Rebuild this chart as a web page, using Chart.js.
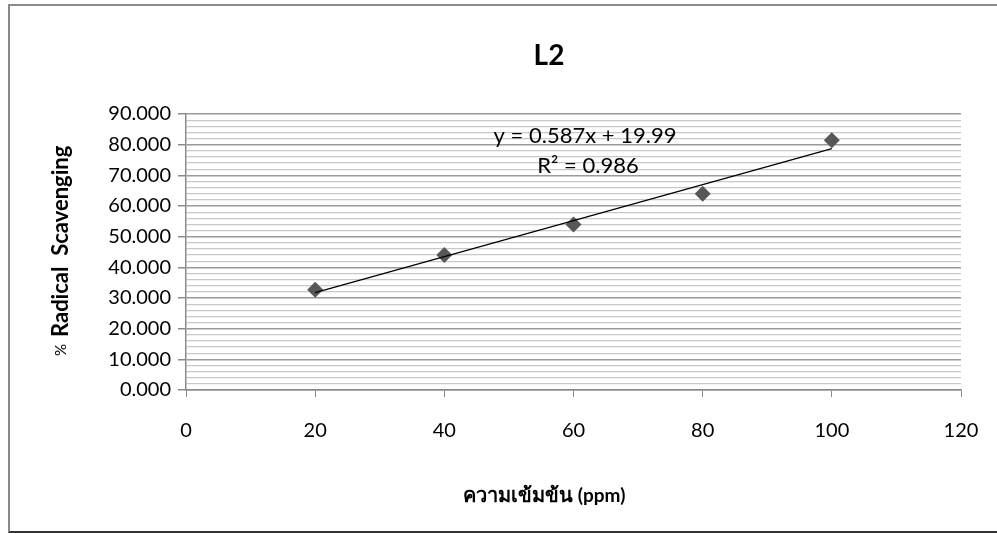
<!DOCTYPE html>
<html>
<head>
<meta charset="utf-8">
<script src="https://cdn.jsdelivr.net/npm/chart.js@4"></script>
<style>
  body { margin: 0; background: #fff; }
  #marco {
    position: absolute; left: 8px; top: 4px; width: 1000px; height: 525px;
    border-left: 2px solid #8a8a8a; border-top: 2px solid #8a8a8a; border-bottom: 2px solid #333;
    pointer-events: none;
  }
  canvas { position: absolute; left: 0; top: 0; }
</style>
</head>
<body>
<canvas id="grafica" width="997" height="533"></canvas>
<div id="marco"></div>
<script>
/* Datos del grafico */
let concentracion = [20, 40, 60, 80, 100]; // ppm
let porcentaje = [32.7, 44.0, 54.0, 64.0, 81.4]; // % Radical Scavenging
let tendenciaX = [20, 100]; // extremos de la linea de tendencia
let tendenciaY = [31.73, 78.69]; // y = 0.587x + 19.99
let titulo = 'L2';
let ecuacion = 'y = 0.587x + 19.99';
let r2 = 'R² = 0.986';

let fuente = 'Lato, "Open Sans", sans-serif';

// Textos fijos (titulo, ecuacion, titulos de ejes)
const textos = {
    id: 'textos',
    afterDraw(chart) {
        let ctx = chart.ctx;
        ctx.save();
        ctx.fillStyle = '#000';
        ctx.textAlign = 'center';
        ctx.textBaseline = 'middle';

        ctx.font = 'bold 28px ' + fuente;
        ctx.fillText(titulo, 549, 56);

        ctx.font = '22px ' + fuente;
        ctx.fillText(ecuacion, 585, 136);
        ctx.fillText(r2, 588, 166);

        // titulo eje x
        let parte1 = 'ความเข้มข้น ';
        let parte2 = '(ppm)';
        ctx.font = 'bold 20px "Noto Sans", ' + fuente;
        let w1 = ctx.measureText(parte1).width;
        ctx.font = 'bold 19px ' + fuente;
        let w2 = ctx.measureText(parte2).width;
        let x0 = 544 - (w1 + w2) / 2;
        ctx.textAlign = 'left';
        ctx.font = 'bold 20px "Noto Sans", ' + fuente;
        ctx.fillText(parte1, x0, 496);
        ctx.font = 'bold 19px ' + fuente;
        ctx.fillText(parte2, x0 + w1, 496);

        // titulo eje y
        ctx.translate(61, 350);
        ctx.rotate(-Math.PI / 2);
        ctx.font = '15px ' + fuente;
        ctx.textAlign = 'center';
        ctx.fillText('%', 0, 0);
        ctx.textAlign = 'left';
        ctx.font = 'bold 22px ' + fuente;
        ctx.fillText('Radical  Scavenging', 13, 0);
        ctx.restore();
    }
};

let ctx = document.getElementById('grafica').getContext('2d');
let grafica = new Chart(ctx, {
    type: 'scatter',
    data: {
        datasets: [{
            type: 'line',
            label: 'Tendencia',
            data: tendenciaX.map((x, i) => ({x: x, y: tendenciaY[i]})),
            borderColor: '#000',
            borderWidth: 1.2,
            pointRadius: 0,
            fill: false
        }, {
            label: 'L2',
            data: concentracion.map((x, i) => ({x: x, y: porcentaje[i]})),
            pointStyle: 'rectRot',
            pointRadius: 8,
            backgroundColor: '#575757',
            borderColor: '#575757',
            borderWidth: 0
        }]
    },
    options: {
        responsive: false,
        animation: false,
        events: [],
        layout: {
            padding: {left: 0, right: 36, top: 114, bottom: 0}
        },
        plugins: {
            legend: {display: false},
            title: {display: false},
            tooltip: {enabled: false}
        },
        scales: {
            x: {
                type: 'linear',
                min: 0,
                max: 120,
                afterFit(escala) {
                    escala.height = 143;
                    escala.paddingRight = 0;
                    escala.paddingLeft = 0;
                },
                ticks: {
                    stepSize: 20,
                    padding: 22,
                    color: '#000',
                    font: {family: fuente, size: 20}
                },
                grid: {
                    drawOnChartArea: false,
                    tickLength: 7,
                    tickColor: '#8a8a8a'
                },
                border: {color: '#8a8a8a', width: 1.5}
            },
            y: {
                min: 0,
                max: 90,
                afterFit(escala) { escala.width = 186; },
                ticks: {
                    stepSize: 2,
                    autoSkip: false,
                    padding: 7,
                    color: '#000',
                    font: {family: fuente, size: 20},
                    callback: (v) => (v % 10 === 0 ? v.toFixed(3) : '')
                },
                grid: {
                    color: (c) => (c.tick && c.tick.value % 10 === 0 ? '#9a9a9a' : '#c8c8c8'),
                    lineWidth: (c) => (c.tick && c.tick.value % 10 === 0 ? 1.5 : 1.2),
                    tickLength: 8,
                    tickColor: (c) => (c.tick && c.tick.value % 10 === 0 ? '#8a8a8a' : 'rgba(0,0,0,0)')
                },
                border: {color: '#8a8a8a', width: 1.5}
            }
        }
    },
    plugins: [textos]
});
</script>
</body>
</html>
